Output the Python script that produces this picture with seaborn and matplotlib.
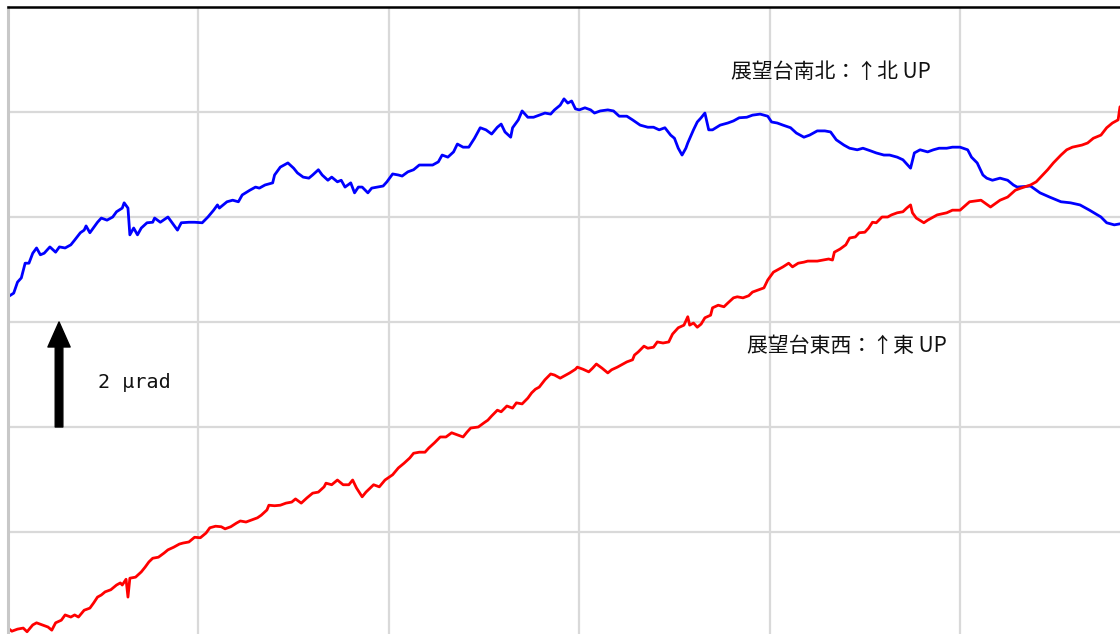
import numpy as np
import pandas as pd
import matplotlib
matplotlib.use("Agg")
import matplotlib.pyplot as plt
import seaborn as sns
from matplotlib.patches import FancyArrowPatch

# ---- data (time in grid units, tilt in micro-radians) ----
ns_time = [0.00, 0.03, 0.05, 0.07, 0.09, 0.11, 0.13, 0.15, 0.17, 0.19, 0.22, 0.25, 0.27, 0.30, 0.33,
           0.35, 0.38, 0.40, 0.41, 0.43, 0.47, 0.49, 0.52, 0.55, 0.57, 0.60, 0.61, 0.63, 0.64, 0.66,
           0.68, 0.70, 0.73, 0.76, 0.77, 0.80, 0.84, 0.86, 0.89, 0.91, 0.95, 0.98, 1.02, 1.05, 1.08,
           1.10, 1.11, 1.15, 1.18, 1.21, 1.23, 1.27, 1.30, 1.32, 1.35, 1.39, 1.40, 1.43, 1.45, 1.47,
           1.50, 1.52, 1.55, 1.58, 1.60, 1.63, 1.65, 1.68, 1.70, 1.73, 1.75, 1.77, 1.80, 1.82, 1.84,
           1.86, 1.89, 1.91, 1.94, 1.97, 1.99, 2.02, 2.05, 2.07, 2.10, 2.13, 2.16, 2.20, 2.23, 2.26,
           2.28, 2.31, 2.34, 2.36, 2.39, 2.42, 2.45, 2.48, 2.51, 2.54, 2.57, 2.59, 2.61, 2.64, 2.65,
           2.68, 2.70, 2.73, 2.76, 2.79, 2.82, 2.85, 2.87, 2.90, 2.92, 2.94, 2.96, 2.98, 3.00, 3.03,
           3.06, 3.08, 3.11, 3.15, 3.18, 3.21, 3.25, 3.28, 3.32, 3.36, 3.39, 3.42, 3.45, 3.48, 3.50,
           3.52, 3.54, 3.56, 3.57, 3.60, 3.62, 3.64, 3.66, 3.68, 3.70, 3.74, 3.78, 3.81, 3.84, 3.88,
           3.91, 3.95, 3.99, 4.01, 4.04, 4.07, 4.11, 4.14, 4.18, 4.21, 4.25, 4.29, 4.32, 4.35, 4.39,
           4.42, 4.46, 4.49, 4.53, 4.56, 4.60, 4.63, 4.67, 4.70, 4.74, 4.76, 4.79, 4.83, 4.86, 4.89,
           4.93, 4.96, 5.00, 5.04, 5.06, 5.09, 5.12, 5.14, 5.17, 5.21, 5.25, 5.28, 5.30, 5.37, 5.42,
           5.47, 5.53, 5.58, 5.63, 5.68, 5.74, 5.77, 5.81, 5.84]
ns_tilt = [4.48, 4.55, 4.76, 4.84, 5.12, 5.12, 5.31, 5.41, 5.28, 5.31, 5.43, 5.33, 5.43, 5.41, 5.47,
           5.56, 5.70, 5.75, 5.83, 5.70, 5.90, 5.98, 5.94, 6.00, 6.10, 6.17, 6.27, 6.17, 5.66, 5.79,
           5.66, 5.79, 5.89, 5.90, 5.98, 5.90, 6.00, 5.90, 5.75, 5.89, 5.90, 5.90, 5.89, 6.00, 6.13,
           6.23, 6.17, 6.29, 6.32, 6.29, 6.42, 6.51, 6.57, 6.55, 6.61, 6.65, 6.80, 6.95, 6.99, 7.03,
           6.93, 6.84, 6.76, 6.74, 6.80, 6.90, 6.80, 6.70, 6.76, 6.67, 6.70, 6.57, 6.65, 6.46, 6.57,
           6.57, 6.46, 6.55, 6.57, 6.59, 6.67, 6.82, 6.80, 6.78, 6.86, 6.90, 6.99, 6.99, 6.99, 7.05,
           7.18, 7.14, 7.24, 7.39, 7.33, 7.33, 7.50, 7.70, 7.66, 7.58, 7.71, 7.77, 7.62, 7.52, 7.70,
           7.85, 8.02, 7.90, 7.90, 7.94, 7.98, 7.96, 8.04, 8.13, 8.25, 8.17, 8.21, 8.06, 8.04, 8.08,
           8.04, 7.98, 8.02, 8.04, 8.02, 7.92, 7.92, 7.85, 7.75, 7.71, 7.71, 7.66, 7.70, 7.56, 7.50,
           7.31, 7.18, 7.31, 7.41, 7.66, 7.81, 7.89, 7.98, 7.66, 7.66, 7.75, 7.79, 7.83, 7.89, 7.90,
           7.94, 7.96, 7.92, 7.81, 7.79, 7.75, 7.70, 7.60, 7.52, 7.56, 7.64, 7.64, 7.62, 7.47, 7.37,
           7.31, 7.28, 7.31, 7.26, 7.22, 7.18, 7.18, 7.14, 7.09, 6.93, 7.22, 7.28, 7.24, 7.28, 7.31,
           7.31, 7.33, 7.33, 7.28, 7.14, 7.03, 6.80, 6.74, 6.70, 6.74, 6.70, 6.61, 6.57, 6.59, 6.46,
           6.38, 6.29, 6.27, 6.23, 6.13, 6.00, 5.89, 5.85, 5.87]

ew_time = [0.00, 0.02, 0.05, 0.08, 0.10, 0.13, 0.15, 0.18, 0.21, 0.23, 0.25, 0.28, 0.30, 0.33, 0.35,
           0.37, 0.40, 0.43, 0.45, 0.47, 0.49, 0.51, 0.54, 0.57, 0.59, 0.60, 0.62, 0.63, 0.64, 0.67,
           0.70, 0.72, 0.74, 0.76, 0.79, 0.82, 0.84, 0.87, 0.90, 0.92, 0.95, 0.98, 1.01, 1.04, 1.06,
           1.09, 1.12, 1.14, 1.17, 1.20, 1.22, 1.25, 1.28, 1.31, 1.33, 1.36, 1.37, 1.40, 1.43, 1.46,
           1.49, 1.51, 1.54, 1.57, 1.60, 1.63, 1.66, 1.67, 1.70, 1.73, 1.76, 1.79, 1.81, 1.83, 1.86,
           1.88, 1.92, 1.95, 1.98, 2.02, 2.05, 2.08, 2.11, 2.13, 2.16, 2.19, 2.21, 2.24, 2.27, 2.30,
           2.33, 2.36, 2.39, 2.41, 2.43, 2.47, 2.50, 2.52, 2.54, 2.57, 2.59, 2.62, 2.65, 2.67, 2.70,
           2.73, 2.75, 2.77, 2.79, 2.82, 2.85, 2.87, 2.90, 2.93, 2.95, 2.98, 2.99, 3.02, 3.05, 3.07,
           3.09, 3.12, 3.15, 3.17, 3.20, 3.22, 3.25, 3.28, 3.29, 3.31, 3.34, 3.36, 3.39, 3.41, 3.44,
           3.47, 3.49, 3.52, 3.55, 3.57, 3.58, 3.60, 3.62, 3.64, 3.66, 3.69, 3.70, 3.73, 3.76, 3.78,
           3.81, 3.83, 3.86, 3.89, 3.91, 3.94, 3.97, 3.99, 4.02, 4.04, 4.07, 4.10, 4.12, 4.15, 4.18,
           4.20, 4.23, 4.25, 4.28, 4.31, 4.33, 4.34, 4.37, 4.40, 4.42, 4.45, 4.47, 4.50, 4.52, 4.54,
           4.56, 4.59, 4.62, 4.64, 4.67, 4.70, 4.72, 4.74, 4.75, 4.77, 4.81, 4.83, 4.86, 4.88, 4.93,
           4.96, 5.00, 5.05, 5.11, 5.16, 5.21, 5.25, 5.29, 5.32, 5.37, 5.40, 5.46, 5.49, 5.53, 5.56,
           5.59, 5.64, 5.67, 5.70, 5.74, 5.77, 5.80, 5.83, 5.84]
ew_tilt = [-1.83, -1.89, -1.85, -1.83, -1.90, -1.77, -1.73, -1.77, -1.81, -1.87, -1.73, -1.68, -1.58, -1.62, -1.58,
           -1.62, -1.49, -1.45, -1.35, -1.24, -1.20, -1.14, -1.10, -1.01, -0.97, -1.01, -0.90, -1.24, -0.88, -0.86,
           -0.76, -0.67, -0.57, -0.50, -0.48, -0.40, -0.34, -0.29, -0.23, -0.21, -0.19, -0.10, -0.11, -0.02, 0.08,
           0.11, 0.10, 0.06, 0.10, 0.17, 0.21, 0.19, 0.23, 0.27, 0.32, 0.42, 0.51, 0.50, 0.51, 0.55,
           0.57, 0.63, 0.55, 0.65, 0.74, 0.76, 0.86, 0.93, 0.90, 0.99, 0.90, 0.90, 0.99, 0.84, 0.67,
           0.76, 0.90, 0.86, 0.99, 1.09, 1.22, 1.31, 1.41, 1.50, 1.52, 1.52, 1.60, 1.70, 1.81, 1.81,
           1.89, 1.85, 1.81, 1.90, 1.98, 2.00, 2.08, 2.13, 2.21, 2.32, 2.29, 2.40, 2.36, 2.46, 2.44,
           2.55, 2.65, 2.72, 2.76, 2.90, 3.01, 2.99, 2.93, 2.99, 3.03, 3.10, 3.14, 3.10, 3.05, 3.12,
           3.20, 3.12, 3.03, 3.09, 3.14, 3.18, 3.24, 3.28, 3.37, 3.43, 3.54, 3.50, 3.52, 3.62, 3.60,
           3.62, 3.77, 3.89, 3.94, 4.10, 3.94, 3.98, 3.90, 3.96, 4.08, 4.13, 4.27, 4.32, 4.29, 4.36,
           4.46, 4.48, 4.46, 4.50, 4.57, 4.61, 4.65, 4.80, 4.95, 4.99, 5.05, 5.12, 5.05, 5.12, 5.14,
           5.16, 5.16, 5.16, 5.18, 5.20, 5.18, 5.33, 5.39, 5.47, 5.60, 5.62, 5.70, 5.71, 5.79, 5.90,
           5.89, 6.00, 6.00, 6.04, 6.08, 6.10, 6.17, 6.23, 6.08, 5.98, 5.89, 5.94, 6.00, 6.04, 6.08,
           6.13, 6.13, 6.29, 6.32, 6.19, 6.32, 6.38, 6.51, 6.55, 6.61, 6.67, 6.90, 7.03, 7.18, 7.28,
           7.33, 7.37, 7.41, 7.50, 7.56, 7.70, 7.79, 7.85, 8.10]

ns_label = "展望台南北：↑北 UP"
ew_label = "展望台東西：↑東 UP"
scale_label = "2 μrad"
scale_base, scale_tip = 2.0, 4.0

ns_df = pd.DataFrame({"time": ns_time, "tilt": ns_tilt})
ew_df = pd.DataFrame({"time": ew_time, "tilt": ew_tilt})

sns.set_theme(style="white")
plt.rcParams["font.family"] = ["Noto Sans CJK JP", "DejaVu Sans"]

fig = plt.figure(figsize=(11.2, 6.34), dpi=100)
ax = fig.add_axes([8 / 1120, 0.0, 1 - 8 / 1120, 1 - 7 / 634])

sns.lineplot(data=ns_df, x="time", y="tilt", ax=ax, color="#0000ff", lw=2.0,
             sort=False, estimator=None)
sns.lineplot(data=ew_df, x="time", y="tilt", ax=ax, color="#ff0000", lw=2.0,
             sort=False, estimator=None)

ax.set_xlim(0, 5.84)
ax.set_ylim(-1.943, 10)
ax.set_xticks([1, 2, 3, 4, 5])
ax.set_yticks([0, 2, 4, 6, 8])
ax.tick_params(left=False, bottom=False, labelleft=False, labelbottom=False)
ax.grid(True, color="#d9d9d9", lw=1.6)
ax.set_axisbelow(True)
ax.set_xlabel("")
ax.set_ylabel("")
for s in ["right", "bottom"]:
    ax.spines[s].set_visible(False)
ax.spines["top"].set_color("black")
ax.spines["top"].set_linewidth(1.8)
ax.spines["left"].set_color("#c8c8c8")
ax.spines["left"].set_linewidth(2.2)

arrow = FancyArrowPatch((0.268, scale_base), (0.268, scale_tip),
                        arrowstyle="simple,head_length=1.8,head_width=1.6,tail_width=0.55",
                        mutation_scale=10, color="black", shrinkA=0, shrinkB=0)
ax.add_patch(arrow)
ax.text(0.473, 2.857, scale_label, fontsize=14.5, va="center", ha="left", color="#111111",
        family=["DejaVu Sans Mono"])
ax.text(3.797, 8.762, ns_label, fontsize=15, va="center", ha="left", color="#111111")
ax.text(3.881, 3.543, ew_label, fontsize=15, va="center", ha="left", color="#111111")

fig.savefig("out.png", dpi=100)
